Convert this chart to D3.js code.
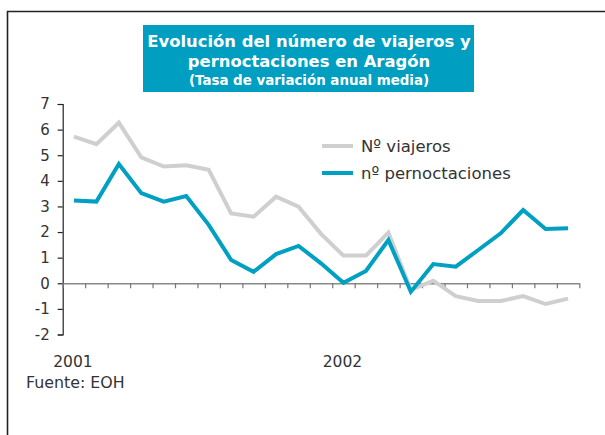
<!DOCTYPE html>
<html>
<head>
<meta charset="utf-8">
<script src="https://cdn.jsdelivr.net/npm/d3@7/dist/d3.min.js"></script>
<style>
  html, body { margin: 0; padding: 0; background: #fff; }
  svg { display: block; font-family: "DejaVu Sans", Verdana, sans-serif; }
</style>
</head>
<body>
<svg id="chart" width="605" height="435"></svg>
<script>
// Monthly periods, Jan 2001 – Nov 2002
const months = ["2001-01","2001-02","2001-03","2001-04","2001-05","2001-06","2001-07","2001-08","2001-09","2001-10","2001-11","2001-12",
                "2002-01","2002-02","2002-03","2002-04","2002-05","2002-06","2002-07","2002-08","2002-09","2002-10","2002-11"];
// Average annual rate of change (%)
const viajeros = [5.73, 5.43, 6.27, 4.92, 4.56, 4.61, 4.43, 2.73, 2.60, 3.38, 2.99, 1.93,
                  1.08, 1.08, 1.98, -0.26, 0.10, -0.50, -0.69, -0.69, -0.50, -0.81, -0.60];
const pernoctaciones = [3.23, 3.19, 4.66, 3.52, 3.19, 3.41, 2.28, 0.91, 0.45, 1.14, 1.46, 0.78,
                        0.02, 0.48, 1.69, -0.33, 0.75, 0.65, 1.30, 1.95, 2.86, 2.12, 2.15];
const yTicks = [-2, -1, 0, 1, 2, 3, 4, 5, 6, 7];
const yearLabels = [{ label: "2001", idx: 0 }, { label: "2002", idx: 12 }];
const seriesNames = ["Nº viajeros", "nº pernoctaciones"];

const GREY = "#cfcfcf", BLUE = "#00a0c3";

const svg = d3.select("#chart");

// outer frame (open to the right and bottom)
svg.append("path")
  .attr("d", "M7.5,435 V11.5 H605")
  .attr("fill", "none").attr("stroke", "#222").attr("stroke-width", 1.6);

// title block
svg.append("rect").attr("x", 143).attr("y", 25).attr("width", 331).attr("height", 67).attr("fill", "#009fc2");
const title = svg.append("text").attr("fill", "#fff").attr("font-weight", "bold").attr("text-anchor", "middle");
title.append("tspan").attr("x", 309).attr("y", 46.5).attr("font-size", 16.4).text("Evolución del número de viajeros y");
title.append("tspan").attr("x", 309).attr("y", 66.5).attr("font-size", 16.4).text("pernoctaciones en Aragón");
title.append("tspan").attr("x", 309).attr("y", 85).attr("font-size", 13.4).text("(Tasa de variación anual media)");

// scales
const x = d3.scaleLinear().domain([0, months.length]).range([62.7, 579.3]);
const y = d3.scaleLinear().domain([-2, 7]).range([334.5, 104]);
const px = i => x(i + 0.5);

// y axis (plain hyphen for negatives)
const yAxis = svg.append("g").attr("transform", "translate(62.7,0)")
  .call(d3.axisLeft(y).tickValues(yTicks).tickSize(5).tickPadding(8).tickFormat(d => String(d)));
yAxis.select(".domain").attr("stroke", "#222").attr("stroke-width", 1.2);
yAxis.selectAll(".tick line").attr("stroke", "#222").attr("stroke-width", 1.2);
yAxis.selectAll(".tick text").attr("font-size", 15).attr("fill", "#333")
  .attr("font-family", "DejaVu Sans, Verdana, sans-serif");

// x axis along zero, ticks on month boundaries
const xAxis = svg.append("g").attr("transform", `translate(0,${y(0)})`)
  .call(d3.axisBottom(x).tickValues(d3.range(months.length + 1)).tickSize(5).tickSizeOuter(0).tickFormat(""));
xAxis.select(".domain").attr("stroke", "#888").attr("stroke-width", 1.5);
xAxis.selectAll(".tick line").attr("stroke", "#777").attr("stroke-width", 1.2);

// year labels
svg.append("g").selectAll("text").data(yearLabels).join("text")
  .attr("x", d => px(d.idx) - 1).attr("y", 367)
  .attr("text-anchor", "middle").attr("font-size", 15.5).attr("fill", "#333")
  .text(d => d.label);

// lines
const line = d3.line().x((d, i) => px(i)).y(d => y(d));
svg.append("path").datum(viajeros).attr("d", line)
  .attr("fill", "none").attr("stroke", GREY).attr("stroke-width", 4).attr("stroke-linejoin", "miter");
svg.append("path").datum(pernoctaciones).attr("d", line)
  .attr("fill", "none").attr("stroke", BLUE).attr("stroke-width", 4).attr("stroke-linejoin", "miter");

// legend
const legend = svg.append("g");
[GREY, BLUE].forEach((c, k) => {
  const yy = 146 + k * 27;
  legend.append("line").attr("x1", 322).attr("x2", 353).attr("y1", yy).attr("y2", yy)
    .attr("stroke", c).attr("stroke-width", 4);
  legend.append("text").attr("x", 361).attr("y", yy + 6).attr("font-size", 16.5).attr("fill", "#333")
    .text(seriesNames[k]);
});

// source note
svg.append("text").attr("x", 26).attr("y", 388).attr("font-size", 15.8).attr("fill", "#333").text("Fuente: EOH");
</script>
</body>
</html>
